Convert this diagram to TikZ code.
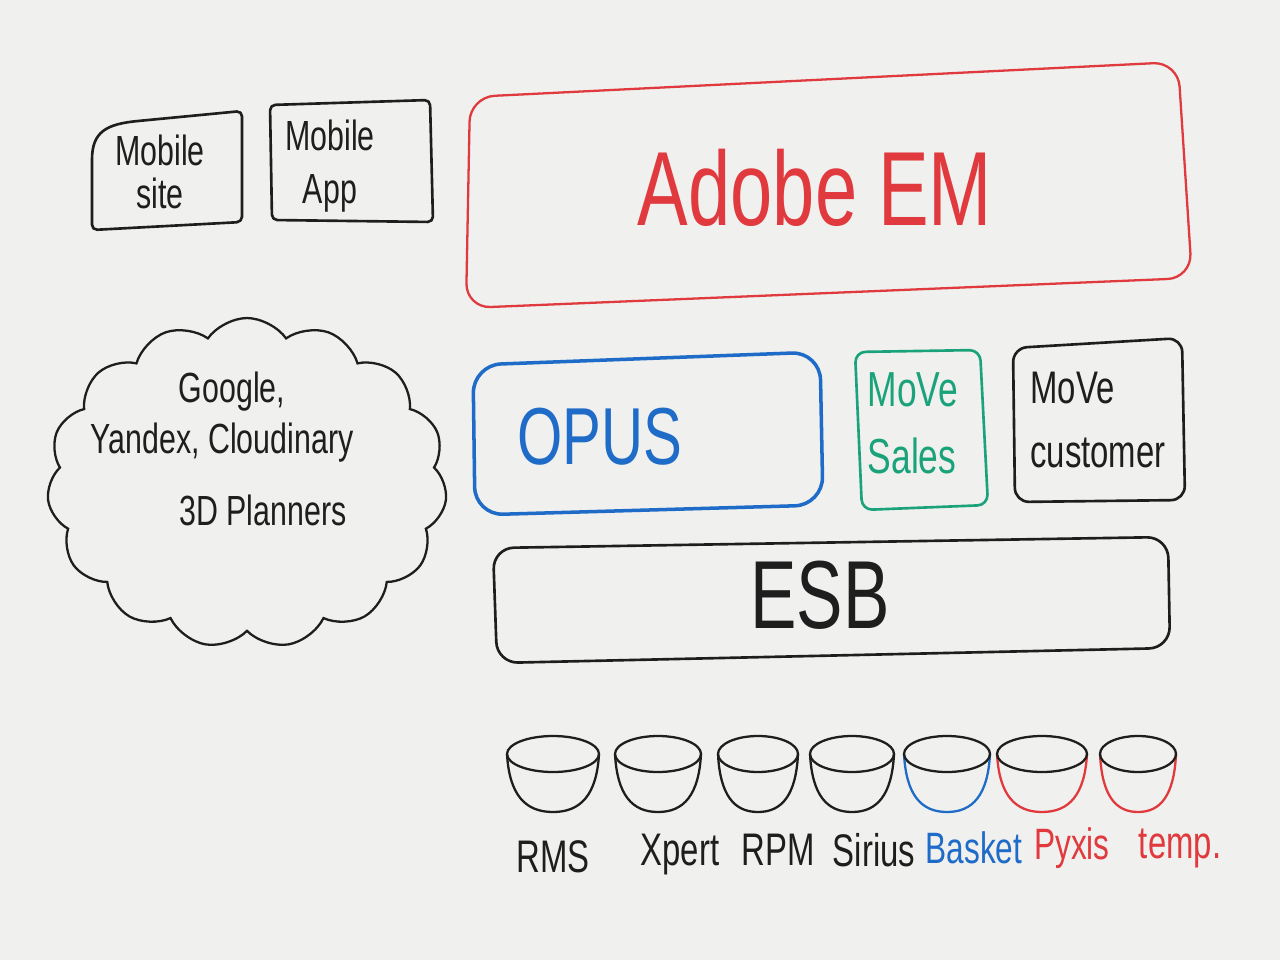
\documentclass[tikz,border=0pt]{standalone}
\usepackage{fontspec}
\setmainfont{Liberation Sans}[FakeStretch=0.72]
\usetikzlibrary{shapes.symbols}
\definecolor{board}{HTML}{F0F0EE}
\definecolor{ink}{HTML}{1E1E1E}
\definecolor{redm}{HTML}{E0393E}
\definecolor{bluem}{HTML}{1F6BC8}
\definecolor{greenm}{HTML}{1AA37A}
\begin{document}
\begin{tikzpicture}[x=0.02cm,y=-0.02cm,
  box/.style={line width=1.5pt, rounded corners=9pt, line join=round},
  lbl/.style={inner sep=0pt, text=ink},
  bowlline/.style={line width=1.3pt}]
\fill[board] (0,0) rectangle (1280,960);
\useasboundingbox (0,0) rectangle (1280,960);

% Mobile site
\draw[box, ink, rounded corners=3pt] (92,230) -- (92,165) [sharp corners] .. controls (92,132) and (106,124) .. (138,121) [rounded corners=3pt] -- (242,111) -- (242,222) -- cycle;
\node[lbl, align=center, font=\fontsize{24}{24}\selectfont] (msite) at (160,172) {Mobile\\site};
% Mobile App
\draw[box, ink, rounded corners=3pt] (270,105) -- (430,100) -- (433,222) -- (272,220) -- cycle;
\node[lbl, align=center, font=\fontsize{24}{30}\selectfont] (mapp) at (330,166) {Mobile\\App};

% Adobe EM
\draw[box, redm, line width=1.3pt, rounded corners=14pt] (470,97) -- (1178,62) -- (1192,278) -- (466,308) -- cycle;
\node[lbl, text=redm, font=\fontsize{60}{70}\selectfont] (aem) at (815,188) {Adobe EM};

% Cloud
\node[cloud, draw=ink, line width=1.3pt, cloud puffs=15, cloud puff arc=110,
      aspect=1.2, minimum width=8.0cm, minimum height=6.6cm, inner sep=0pt] (cloud) at (247,483) {};
\node[lbl, font=\fontsize{24}{24}\selectfont] (google) at (232,392) {Google,};
\node[lbl, font=\fontsize{24}{24}\selectfont] (yandex) at (222,443) {Yandex, Cloudinary};
\node[lbl, font=\fontsize{24}{24}\selectfont] (planners) at (263,510) {3D Planners};

% OPUS
\draw[box, bluem, line width=2pt, rounded corners=16pt] (473,365) -- (820,352) -- (823,505) -- (475,515) -- cycle;
\node[lbl, text=bluem, font=\fontsize{46}{50}\selectfont] (opus) at (600,437) {OPUS};

% MoVe Sales
\draw[box, greenm, rounded corners=6pt] (855,352) -- (980,350) -- (988,505) -- (862,510) -- cycle;
\node[lbl, text=greenm, align=left, font=\fontsize{28}{38}\selectfont] (msales) at (913,423) {MoVe\\Sales};

% MoVe customer
\draw[box, ink, rounded corners=8pt] (1013,348) -- (1182,338) -- (1185,500) -- (1015,502) -- cycle;
\node[lbl, align=left, font=\fontsize{26}{36}\selectfont] (mcust) at (1098,420) {MoVe\\customer};

% ESB
\draw[box, ink, rounded corners=12pt] (493,548) -- (1168,537) -- (1170,648) -- (497,663) -- cycle;
\node[lbl, font=\fontsize{55}{60}\selectfont] (esb) at (820,595) {ESB};

% Data stores (bowls)
\foreach \cx/\w/\col in {553/46/ink, 658/43/ink, 758/40/ink, 852/42/ink, 947/43/bluem, 1042/45/redm, 1138/38/redm}{
  \draw[\col, bowlline] (\cx-\w,754) .. controls (\cx-0.95*\w,795) and (\cx-0.6*\w,812) .. (\cx,812)
        .. controls (\cx+0.6*\w,812) and (\cx+0.95*\w,795) .. (\cx+\w,754);
  \draw[ink, bowlline] (\cx,754) ellipse [x radius=\w, y radius=18];
}
\node[lbl, font=\fontsize{26}{26}\selectfont] (rms) at (553,857) {RMS};
\node[lbl, font=\fontsize{26}{26}\selectfont] (xpert) at (680,855) {Xpert};
\node[lbl, font=\fontsize{26}{26}\selectfont] (rpm) at (778,850) {RPM};
\node[lbl, font=\fontsize{26}{26}\selectfont] (sirius) at (874,850) {Sirius};
\node[lbl, text=bluem, font=\fontsize{25}{26}\selectfont] (basket) at (974,848) {Basket};
\node[lbl, text=redm, font=\fontsize{25}{26}\selectfont] (pyxis) at (1072,848) {Pyxis};
\node[lbl, text=redm, font=\fontsize{26}{26}\selectfont] (temp) at (1180,848) {temp.};
\end{tikzpicture}
\end{document}
